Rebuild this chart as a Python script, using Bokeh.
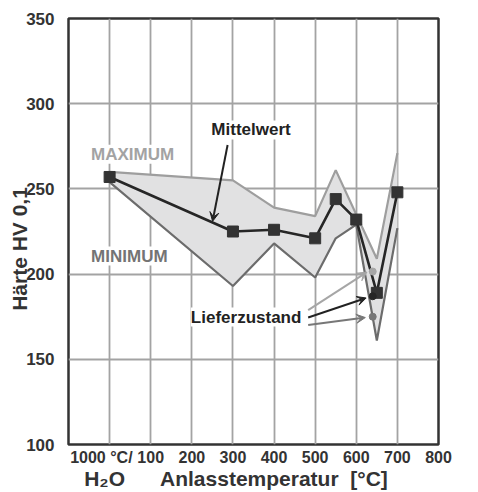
from bokeh.plotting import figure
from bokeh.models import Range1d, FixedTicker, Label, Arrow, VeeHead
from bokeh.embed import file_html
from bokeh.resources import INLINE

# ---- data ----
temps = [0, 300, 400, 500, 550, 600, 650, 700]
mittelwert = [257, 225, 226, 221, 244, 232, 189, 248]
maximum = [260, 255, 239, 234, 261, 235, 209, 271]
minimum = [254, 193, 218, 198, 221, 229, 161, 227]

liefer_temp = [640, 640, 640]
liefer_hv = [201.5, 187, 175]
liefer_colors = ["#a6a6a6", "#262626", "#777777"]

x_ticks = [-20, 100, 200, 300, 400, 500, 600, 700, 800]
x_grid = [0, 100, 200, 300, 400, 500, 600, 700]
y_ticks = [100, 150, 200, 250, 300, 350]
y_grid = [150, 200, 250, 300]

FONT = "Liberation Sans"
TXT = "#333333"
NB = "\u00a0"

p = figure(width=478, height=492, x_range=Range1d(-100, 800), y_range=Range1d(100, 350),
           output_backend="svg", toolbar_location=None,
           min_border_left=68, min_border_top=18, min_border_right=40, min_border_bottom=46)

p.outline_line_color = "#333333"
p.outline_line_width = 2.5
p.background_fill_color = "white"
p.border_fill_color = "white"

for ax in (p.xaxis, p.yaxis):
    ax.axis_line_color = None
    ax.major_tick_line_color = None
    ax.minor_tick_line_color = None
    ax.major_label_text_font = FONT
    ax.major_label_text_font_style = "bold"
    ax.major_label_text_font_size = "17px"
    ax.major_label_text_color = TXT
    ax.major_label_text_line_height = 0.8
    ax.axis_label_text_font = FONT
    ax.axis_label_text_font_style = "bold"
    ax.axis_label_text_font_size = "21px"
    ax.axis_label_text_color = TXT
    ax.axis_label_text_line_height = 0.8

p.xaxis.ticker = FixedTicker(ticks=x_ticks)
p.xaxis.major_label_overrides = {-20: "1000 °C/"}
p.xaxis.major_label_text_font_size = "16px"
p.xaxis.major_label_standoff = -2
p.xaxis.axis_label = "H\u2082O" + NB * 6 + "Anlasstemperatur" + NB * 2 + "[°C]" + NB * 6
p.xaxis.axis_label_standoff = -2

p.yaxis.ticker = FixedTicker(ticks=y_ticks)
p.yaxis.major_label_standoff = 8
p.yaxis.axis_label = "Härte HV 0,1" + NB * 6
p.yaxis.axis_label_standoff = -8

p.xgrid.ticker = FixedTicker(ticks=x_grid)
p.ygrid.ticker = FixedTicker(ticks=y_grid)
p.grid.grid_line_color = "#a3a3a3"
p.grid.grid_line_width = 1.8

# band, boundaries, mean
p.varea(x=temps, y1=minimum, y2=maximum, fill_color="#e1e1e2")
p.line(temps, maximum, line_color="#9e9e9e", line_width=2.2)
p.line(temps, minimum, line_color="#6c6c6c", line_width=2.2)
p.line(temps, mittelwert, line_color="#262626", line_width=2.6)
p.scatter(temps, mittelwert, marker="square", size=11, fill_color="#333333", line_color="#333333")
p.scatter(liefer_temp, liefer_hv, marker="circle", size=7, fill_color=liefer_colors, line_color=liefer_colors)

def lab(text, x, y, color, size="17px"):
    p.add_layout(Label(x=x, y=y, text=text, text_font=FONT, text_font_style="bold",
                       text_font_size=size, text_color=color, text_align="center",
                       text_baseline="middle", background_fill_color="white"))

lab("MAXIMUM", 56, 270.3, "#a3a3a3")
lab("MINIMUM", 48, 210.6, "#747474")
lab("Mittelwert", 344, 284.6, "#222222")
lab("Lieferzustand", 332, 174.8, "#222222")

def arrow(x0, y0, x1, y1, color):
    p.add_layout(Arrow(end=VeeHead(size=9, fill_color=color, line_color=color, line_width=1),
                       x_start=x0, y_start=y0, x_end=x1, y_end=y1,
                       line_color=color, line_width=2))

arrow(287, 275.8, 250.5, 231, "#222222")
arrow(483, 178.9, 626, 201.2, "#a6a6a6")
arrow(483, 174.5, 624, 186, "#222222")
arrow(483, 170.1, 622, 174.5, "#777777")

open("out.html", "w").write(file_html(p, INLINE))
